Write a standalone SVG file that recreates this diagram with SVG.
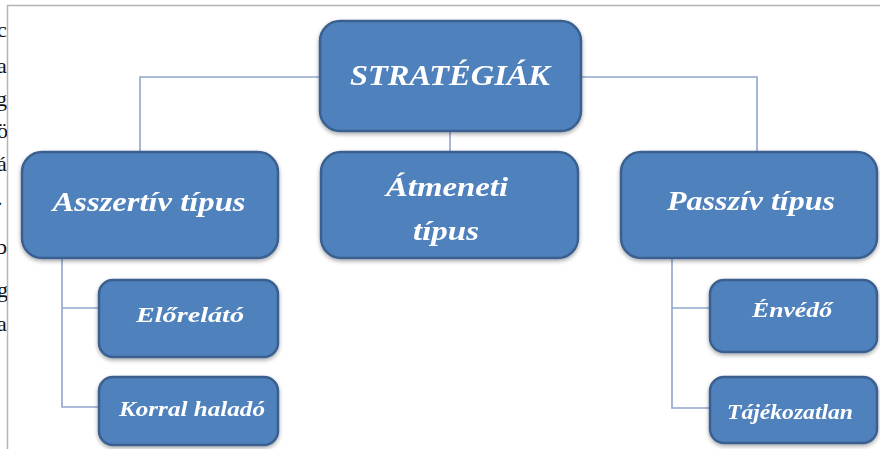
<svg xmlns="http://www.w3.org/2000/svg" width="880" height="449" viewBox="0 0 880 449">
<style>
.box{fill:#4f81bd;stroke:#3a6090;stroke-width:2.5}
.t{font-family:"Liberation Serif","Times New Roman",serif;font-weight:bold;font-style:italic;fill:#ffffff;text-anchor:middle}
.c{fill:none;stroke:#8ea7cc;stroke-width:1.6}
.edge{font-family:"Liberation Serif","Times New Roman",serif;font-size:22px;fill:#111}
</style>
<defs>
<clipPath id="leftclip"><rect x="0" y="0" width="7" height="449"/></clipPath>
<filter id="sh" x="-10%" y="-10%" width="120%" height="130%">
<feGaussianBlur in="SourceAlpha" stdDeviation="2"/>
<feOffset dx="0" dy="2" result="b"/>
<feComponentTransfer><feFuncA type="linear" slope="0.35"/></feComponentTransfer>
<feMerge><feMergeNode/><feMergeNode in="SourceGraphic"/></feMerge>
</filter>
</defs>
<rect width="880" height="449" fill="#ffffff"/>
<g id="frame" fill="none" stroke="#b4b4b4" stroke-width="1.5">
<path d="M7.5,449 V5.5 H880"/>
</g>
<g id="margin-text" clip-path="url(#leftclip)" class="edge">
<text x="-3" y="37">c</text>
<text x="-3" y="73">a</text>
<text x="-4" y="106">gs</text>
<text x="-3" y="138">ö</text>
<text x="-3" y="171">á</text>
<text x="-3" y="205">.</text>
<text x="-4" y="254">b</text>
<text x="-3" y="297">g</text>
<text x="-3" y="331">a</text>
</g>
<g id="connectors" class="c">
<path d="M140,152 V77 H320"/>
<path d="M581,77 H757 V152"/>
<path d="M450,131 V152"/>
<path d="M62,258 V407 H99"/>
<path d="M62,308 H99"/>
<path d="M672,258 V408 H710"/>
<path d="M672,308 H710"/>
</g>
<g id="strategiak" filter="url(#sh)">
<rect class="box" x="320" y="21" width="261" height="110" rx="20"/>
<text class="t" x="450" y="85" font-size="30" textLength="200" lengthAdjust="spacingAndGlyphs">STRATÉGIÁK</text>
</g>
<g id="asszertiv" filter="url(#sh)">
<rect class="box" x="22" y="152" width="256" height="106" rx="20"/>
<text class="t" x="149" y="211" font-size="27" textLength="193" lengthAdjust="spacingAndGlyphs">Asszertív típus</text>
</g>
<g id="atmeneti" filter="url(#sh)">
<rect class="box" x="321" y="152" width="257" height="106" rx="20"/>
<text class="t" x="447" y="196" font-size="27" textLength="122" lengthAdjust="spacingAndGlyphs">Átmeneti</text>
<text class="t" x="446" y="240" font-size="27" textLength="66" lengthAdjust="spacingAndGlyphs">típus</text>
</g>
<g id="passziv" filter="url(#sh)">
<rect class="box" x="621" y="152" width="256" height="106" rx="20"/>
<text class="t" x="751" y="210" font-size="27" textLength="168" lengthAdjust="spacingAndGlyphs">Passzív típus</text>
</g>
<g id="elorelato" filter="url(#sh)">
<rect class="box" x="99" y="280" width="179" height="77" rx="14"/>
<text class="t" x="190" y="322" font-size="20" textLength="108" lengthAdjust="spacingAndGlyphs">Előrelátó</text>
</g>
<g id="korral" filter="url(#sh)">
<rect class="box" x="99" y="377" width="179" height="68" rx="14"/>
<text class="t" x="192" y="416" font-size="20" textLength="146" lengthAdjust="spacingAndGlyphs">Korral haladó</text>
</g>
<g id="envedo" filter="url(#sh)">
<rect class="box" x="710" y="280" width="167" height="72" rx="14"/>
<text class="t" x="792" y="317" font-size="20" textLength="80" lengthAdjust="spacingAndGlyphs">Énvédő</text>
</g>
<g id="tajekozatlan" filter="url(#sh)">
<rect class="box" x="710" y="377" width="167" height="66" rx="14"/>
<text class="t" x="790" y="419" font-size="20" textLength="126" lengthAdjust="spacingAndGlyphs">Tájékozatlan</text>
</g>
</svg>
